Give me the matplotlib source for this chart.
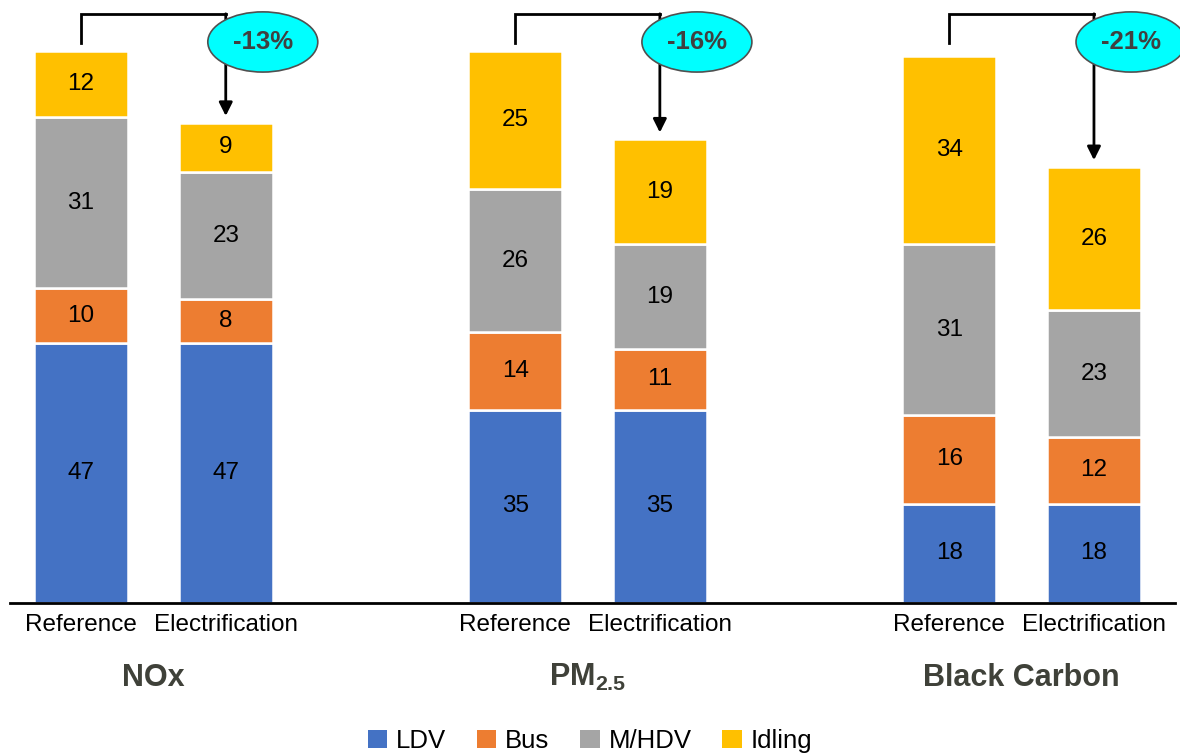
import matplotlib
matplotlib.use("Agg")
import matplotlib.pyplot as plt
from matplotlib.patches import Ellipse, Patch

plt.rcParams['font.family'] = ['Liberation Sans', 'DejaVu Sans']
plt.rcParams['mathtext.fontset'] = 'custom'
plt.rcParams['mathtext.rm'] = 'Liberation Sans'
plt.rcParams['mathtext.bf'] = 'Liberation Sans:bold'

# emisiones por contaminante, escenario y tipo de fuente
pollutants = ['NOx', r'$\mathbf{PM_{2.5}}$', 'Black Carbon']
scenarios = ['Reference', 'Electrification']
sources = ['LDV', 'Bus', 'M/HDV', 'Idling']
colors = ['#4472C4', '#ED7D31', '#A5A5A5', '#FFC000']

ldv = [[47, 47], [35, 35], [18, 18]]
bus = [[10, 8], [14, 11], [16, 12]]
mhdv = [[31, 23], [26, 19], [31, 23]]
idling = [[12, 9], [25, 19], [34, 26]]
reductions = ['-13%', '-16%', '-21%']

fig = plt.figure(figsize=(11.8, 7.55), dpi=100)
ax = fig.add_axes([10 / 1180, 0.2013, 1165 / 1180, 0.7987])
ax.set_xlim(-0.491, 7.56)
ax.set_ylim(0, 109.2)

width = 0.65
xticks = []
xlabels = []
for g in range(len(pollutants)):
    for s in range(2):
        x = g * 3 + s
        xticks.append(x)
        xlabels.append(scenarios[s])
        bottom = 0
        for k, serie in enumerate([ldv, bus, mhdv, idling]):
            v = serie[g][s]
            ax.bar(x, v, width, bottom=bottom, color=colors[k],
                   edgecolor='white', linewidth=1.8)
            ax.text(x, bottom + v / 2, str(v), ha='center', va='center',
                    fontsize=17.5, color='black')
            bottom += v

    # flecha de reducción entre escenarios
    tot_ele = ldv[g][1] + bus[g][1] + mhdv[g][1] + idling[g][1]
    x0 = g * 3
    x1 = g * 3 + 1
    ytop = 106.7
    ax.plot([x0, x0, x1], [101.4, ytop, ytop], color='black', lw=2,
            solid_joinstyle='miter', clip_on=False)
    ax.annotate('', xy=(x1, tot_ele + 1.2), xytext=(x1, ytop),
                arrowprops=dict(arrowstyle='-|>', color='black', lw=2,
                                mutation_scale=20, shrinkA=0, shrinkB=0))
    ell = Ellipse((x1 + 0.256, 101.6), 0.76, 10.9, facecolor='#00FFFF',
                  edgecolor='#505050', lw=1.2, zorder=5, clip_on=False)
    ax.add_patch(ell)
    ax.text(x1 + 0.256, 101.6, reductions[g], ha='center', va='center',
            fontsize=18.5, fontweight='bold', color='#404040', zorder=6)

    ax.text(g * 3 + 0.5, -0.124, pollutants[g], transform=ax.get_xaxis_transform(),
            ha='center', va='center', fontsize=22, fontweight='bold',
            color='#3F4139')

ax.set_xticks(xticks)
ax.set_xticklabels(xlabels, fontsize=17.5)
ax.tick_params(axis='x', length=0, pad=8)
ax.set_yticks([])
for side in ['top', 'right', 'left']:
    ax.spines[side].set_visible(False)
ax.spines['bottom'].set_linewidth(2)

handles = [Patch(facecolor=c, edgecolor='none') for c in colors]
fig.legend(handles, sources, loc='center', bbox_to_anchor=(0.5, 1 - 741 / 755),
           ncol=4, frameon=False, fontsize=18.5, handlelength=0.75, handleheight=0.75,
           handletextpad=0.35, columnspacing=1.2)

fig.savefig('out.png', dpi=100)
